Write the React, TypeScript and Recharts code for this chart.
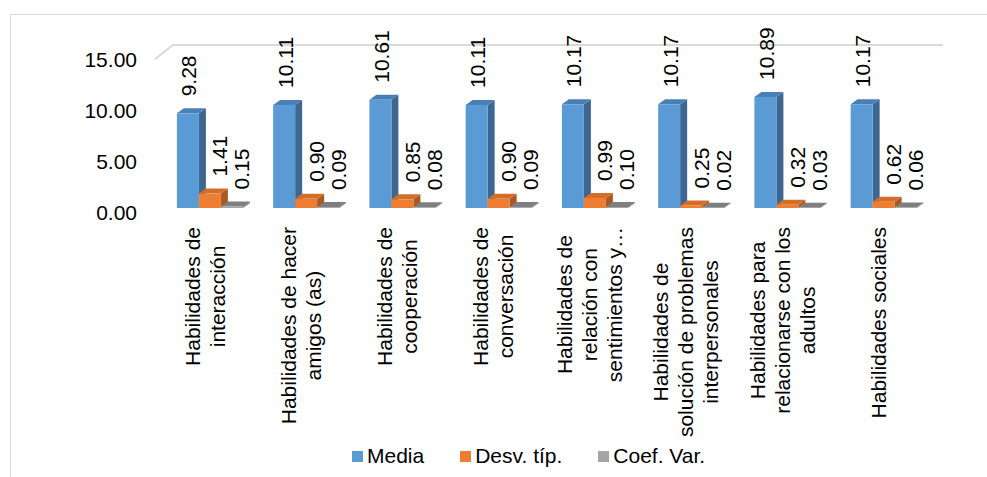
import { Bar, BarChart, CartesianGrid, LabelList, XAxis, YAxis } from 'recharts';

const categories = [
  ['Habilidades de', 'interacción'],
  ['Habilidades de hacer', 'amigos (as)'],
  ['Habilidades de', 'cooperación'],
  ['Habilidades de', 'conversación'],
  ['Habilidades de', 'relación con', 'sentimientos y…'],
  ['Habilidades de', 'solución de problemas', 'interpersonales'],
  ['Habilidades para', 'relacionarse con los', 'adultos'],
  ['Habilidades sociales'],
];
const media = [9.28, 10.11, 10.61, 10.11, 10.17, 10.17, 10.89, 10.17];
const desvTip = [1.41, 0.9, 0.85, 0.9, 0.99, 0.25, 0.32, 0.62];
const coefVar = [0.15, 0.09, 0.08, 0.09, 0.1, 0.02, 0.03, 0.06];
const yTicks = [0, 5, 10, 15];

const FONT = '"Liberation Sans", Arial, sans-serif';
const FS = 21;
const DX = 7;
const DY = 5;

const series = [
  { key: 'media', name: 'Media', front: '#5B9BD5', top: '#4A7FB5', side: '#3D6791', labelDx: 1 },
  { key: 'desv', name: 'Desv. típ.', front: '#ED7D31', top: '#D36E29', side: '#A95A22', labelDx: 10 },
  { key: 'coef', name: 'Coef. Var.', front: '#A5A5A5', top: '#7F7F7F', side: '#6E6E6E', labelDx: 10 },
];

const data = categories.map((lines, i) => ({
  cat: lines.join(' '),
  media: media[i],
  desv: desvTip[i],
  coef: coefVar[i],
}));

let ctx: CanvasRenderingContext2D | null = null;
function textWidth(s: string) {
  if (!ctx) ctx = document.createElement('canvas').getContext('2d');
  if (!ctx) return s.length * FS * 0.5;
  ctx.font = `${FS}px "Liberation Sans", Arial, sans-serif`;
  return ctx.measureText(s).width;
}

function make3D(front: string, top: string, side: string) {
  return (props: any) => {
    const { x, y, width: w, height: h } = props;
    if (w == null || h == null) return <g />;
    return (
      <g>
        <polygon
          points={`${x + w},${y} ${x + w + DX},${y - DY} ${x + w + DX},${y + h - DY} ${x + w},${y + h}`}
          fill={side}
        />
        <polygon points={`${x},${y} ${x + DX},${y - DY} ${x + w + DX},${y - DY} ${x + w},${y}`} fill={top} />
        <rect x={x} y={y} width={w} height={h} fill={front} />
      </g>
    );
  };
}

function valueLabel(dx: number) {
  return (p: any) => {
    const lx = p.x + p.width / 2 + dx;
    const ly = p.y - 17;
    return (
      <text
        transform={`translate(${lx},${ly}) rotate(-90)`}
        textAnchor="start"
        dominantBaseline="central"
        fontFamily={FONT}
        fontSize={FS}
        fill="#000"
      >
        {Number(p.value).toFixed(2)}
      </text>
    );
  };
}

function CategoryTick(props: any) {
  const { x, index } = props;
  const lines = categories[index] || [];
  const maxW = Math.max(...lines.map(textWidth));
  const cy = 227 + maxW / 2;
  const n = lines.length;
  return (
    <g>
      {lines.map((ln, i) => (
        <text
          key={i}
          transform={`translate(${x - 5 + (i - (n - 1) / 2) * 25},${cy}) rotate(-90)`}
          textAnchor="middle"
          dominantBaseline="central"
          fontFamily={FONT}
          fontSize={FS}
          fill="#000"
        >
          {ln}
        </text>
      ))}
    </g>
  );
}

function ValueTick(props: any) {
  const { y, payload } = props;
  return (
    <text x={137} y={y + 4} textAnchor="end" dominantBaseline="central" fontFamily={FONT} fontSize={FS} fill="#000">
      {Number(payload.value).toFixed(2)}
    </text>
  );
}

function gridLine(p: any) {
  const { x1, x2, y } = p;
  return (
    <polyline
      key={p.key ?? `g-${y}`}
      points={`${x1 - 6.5},${y + 4} ${x1 + 11.5},${y - 10} ${x2 + 11.5},${y - 10}`}
      fill="none"
      stroke="#D9D9D9"
      strokeWidth={1.5}
    />
  );
}

export default function App() {
  return (
    <div style={{ position: 'absolute', left: 0, top: 0, width: 987, height: 477, background: '#fff', overflow: 'hidden' }}>
      <div
        style={{
          position: 'absolute',
          left: 10,
          top: 14,
          width: 990,
          height: 480,
          borderTop: '1px solid #D9D9D9',
          borderLeft: '1px solid #D9D9D9',
        }}
      />
      <div style={{ position: 'absolute', left: 0, top: 0 }}>
        <BarChart
          width={987}
          height={477}
          data={data}
          margin={{ top: 55, right: 55.5, bottom: 39, left: 101.5 }}
          barGap={0}
          barCategoryGap="16%"
        >
          <CartesianGrid vertical={false} horizontal={gridLine} />
          <XAxis dataKey="cat" interval={0} height={230} axisLine={false} tickLine={false} tick={<CategoryTick />} />
          <YAxis
            domain={[0, 15]}
            ticks={yTicks}
            width={60}
            axisLine={false}
            tickLine={false}
            tick={<ValueTick />}
          />
          {series.map((s) => (
            <Bar key={s.key} dataKey={s.key} name={s.name} isAnimationActive={false} shape={make3D(s.front, s.top, s.side)}>
              <LabelList dataKey={s.key} content={valueLabel(s.labelDx)} />
            </Bar>
          ))}
        </BarChart>
      </div>
      <div
        style={{
          position: 'absolute',
          left: 352,
          top: 444,
          display: 'flex',
          alignItems: 'center',
          fontFamily: FONT,
          fontSize: FS,
          color: '#000',
          whiteSpace: 'nowrap',
        }}
      >
        {series.map((s) => (
          <div key={s.key} style={{ display: 'flex', alignItems: 'center', marginRight: 36 }}>
            <span style={{ width: 11, height: 11, background: s.front, display: 'inline-block', marginRight: 4 }} />
            <span>{s.name}</span>
          </div>
        ))}
      </div>
    </div>
  );
}
